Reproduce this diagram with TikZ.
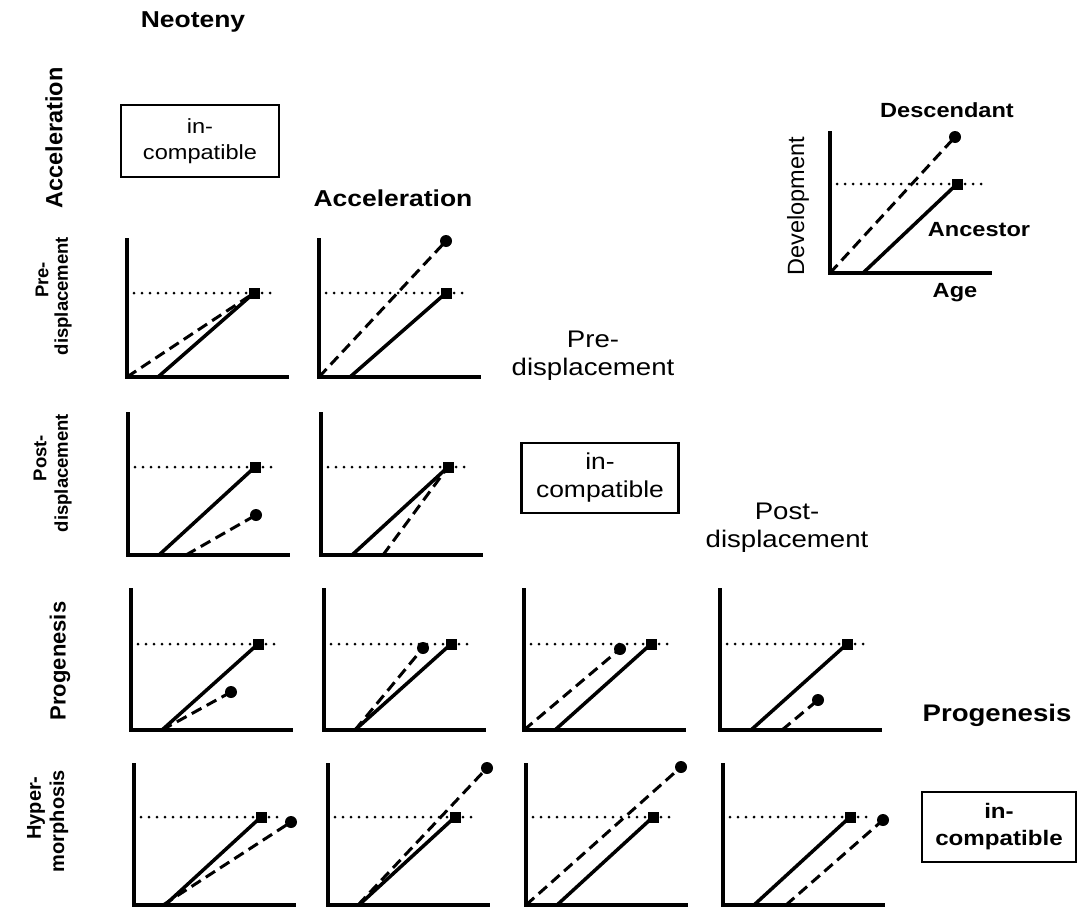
\documentclass[tikz,border=0pt]{standalone}
\usepackage{fontspec}
\newfontfamily\hf[FakeStretch=1.15]{Liberation Sans}
\newfontfamily\vf{Liberation Sans}
% #1 name, #2 x of y-axis, #3 y of x-axis, #4 y of axis top, #5 height of dotted line
\newcommand\pnl[5]{%
  \coordinate (#1o) at (#2,#3);
  \coordinate (#1sq) at (#2+127,#3-#5);
  \draw[axisl] (#2,#4) -- (#1o) -- (#2+160,#3);
  \draw[dotl] (#2+7,#3-#5) -- (#2+150,#3-#5);
  \draw[anc] (#2+31,#3) -- (#1sq);
  \node[smark] at (#1sq) {};
}
\begin{document}
\begin{tikzpicture}[x=1pt,y=-1pt,
  axisl/.style={line width=3.2pt, line cap=rect},
  anc/.style={line width=3.5pt},
  desc/.style={line width=3pt, dash pattern=on 11pt off 6pt},
  dotl/.style={line width=3pt, line cap=round, dash pattern=on 0pt off 8pt},
  smark/.style={fill=black, rectangle, minimum size=11pt, inner sep=0pt},
  cmark/.style={fill=black, circle, minimum size=12pt, inner sep=0pt},
  hb/.style={font=\hf\bfseries\fontsize{23}{28}\selectfont, inner sep=0pt},
  hr/.style={font=\hf\fontsize{24}{28}\selectfont, inner sep=0pt, align=center},
  lb/.style={font=\hf\bfseries\fontsize{20.5}{24}\selectfont, inner sep=0pt},
  incbox/.style={draw, line width=2.6pt, align=center, inner sep=0pt},
  vlab/.style={rotate=90, inner sep=0pt}
]
\fill[white] (0,0) rectangle (1078,907);
\useasboundingbox (0,0) rectangle (1078,907);

% column headers
\node[hb] (neo) at (193,22) {Neoteny};
\node[hb] (accH) at (393,198) {Acceleration};
\node[hr] (preH) at (593,356) {Pre-\\displacement};
\node[hr] (postH) at (787,528) {Post-\\displacement};
\node[hb, font=\hf\bfseries\fontsize{24}{28}\selectfont] (progH) at (997,715) {Progenesis};

% row labels
\node[vlab, font=\vf\bfseries\fontsize{23.5}{28}\selectfont] (rAcc) at (54,138) {Acceleration};
\node[vlab, font=\vf\bfseries\fontsize{18.5}{24}\selectfont] (rPre1) at (42,280) {Pre-};
\node[vlab, font=\vf\bfseries\fontsize{18.5}{24}\selectfont] (rPre2) at (63,296) {displacement};
\node[vlab, font=\vf\bfseries\fontsize{18.5}{24}\selectfont] (rPost1) at (40,458) {Post-};
\node[vlab, font=\vf\bfseries\fontsize{18.5}{24}\selectfont] (rPost2) at (63,473) {displacement};
\node[vlab, font=\vf\bfseries\fontsize{22}{26}\selectfont] (rProg) at (60,661) {Progenesis};
\node[vlab, font=\vf\bfseries\fontsize{20}{26}\selectfont] (rHyp1) at (36,808) {Hyper-};
\node[vlab, font=\vf\bfseries\fontsize{20}{26}\selectfont] (rHyp2) at (59,821) {morphosis};

% incompatible boxes
\node[incbox, font=\hf\fontsize{20.5}{26}\selectfont, minimum width=158pt, minimum height=72pt] (inc1) at (200,141) {in-\\compatible};
\node[incbox, font=\hf\fontsize{23}{28}\selectfont, minimum width=157pt, minimum height=70pt] (inc2) at (600,478) {in-\\compatible};
\node[incbox, font=\hf\bfseries\fontsize{21}{27}\selectfont, minimum width=154pt, minimum height=70pt] (inc3) at (999,827) {in-\\compatible};

% legend
\coordinate (Lo) at (830,273);
\coordinate (Lsq) at (957,184);
\coordinate (Lc) at (955,137);
\draw[axisl] (830,133) -- (Lo) -- (990,273);
\draw[dotl] (837,184) -- (982,184);
\draw[anc] (863,273) -- (Lsq);
\draw[desc] (Lo) -- (Lc);
\node[smark] at (Lsq) {};
\node[cmark] at (Lc) {};
\node[lb] (desc) at (947,110) {Descendant};
\node[lb] (ances) at (979,230) {Ancestor};
\node[lb] (age) at (955,293) {Age};
\node[vlab, font=\vf\fontsize{23.5}{28}\selectfont] (devl) at (798,206) {Development};

% row 2: pre-displacement
\pnl{a}{127}{377}{240}{84}
\draw[desc] (ao) -- (asq);
\pnl{b}{319}{377}{240}{84}
\coordinate (bc) at (446,241);
\draw[desc] (bo) -- (bc); \node[cmark] at (bc) {};

% row 3: post-displacement
\pnl{c}{128}{555}{414}{88}
\coordinate (cc) at (256,515);
\draw[desc] (186,555) -- (cc); \node[cmark] at (cc) {};
\pnl{d}{321}{555}{414}{88}
\draw[desc] (383,555) -- (dsq);

% row 4: progenesis
\pnl{e}{131}{730}{590}{86}
\coordinate (ec) at (231,692);
\draw[desc] (162,730) -- (ec); \node[cmark] at (ec) {};
\pnl{f}{324}{730}{590}{86}
\coordinate (fc) at (423,648);
\draw[desc] (355,730) -- (fc); \node[cmark] at (fc) {};
\pnl{g}{524}{730}{590}{86}
\coordinate (gc) at (620,649);
\draw[desc] (go) -- (gc); \node[cmark] at (gc) {};
\pnl{h}{720}{730}{590}{86}
\coordinate (hc) at (818,700);
\draw[desc] (782,730) -- (hc); \node[cmark] at (hc) {};

% row 5: hypermorphosis
\pnl{i}{134}{905}{765}{88}
\coordinate (ic) at (291,822);
\draw[desc] (163,905) -- (ic); \node[cmark] at (ic) {};
\pnl{j}{328}{905}{765}{88}
\coordinate (jc) at (487,768);
\draw[desc] (358,905) -- (jc); \node[cmark] at (jc) {};
\pnl{k}{526}{905}{765}{88}
\coordinate (kc) at (681,767);
\draw[desc] (ko) -- (kc); \node[cmark] at (kc) {};
\pnl{l}{723}{905}{765}{88}
\coordinate (lc) at (883,820);
\draw[desc] (786,905) -- (lc); \node[cmark] at (lc) {};
\end{tikzpicture}
\end{document}
